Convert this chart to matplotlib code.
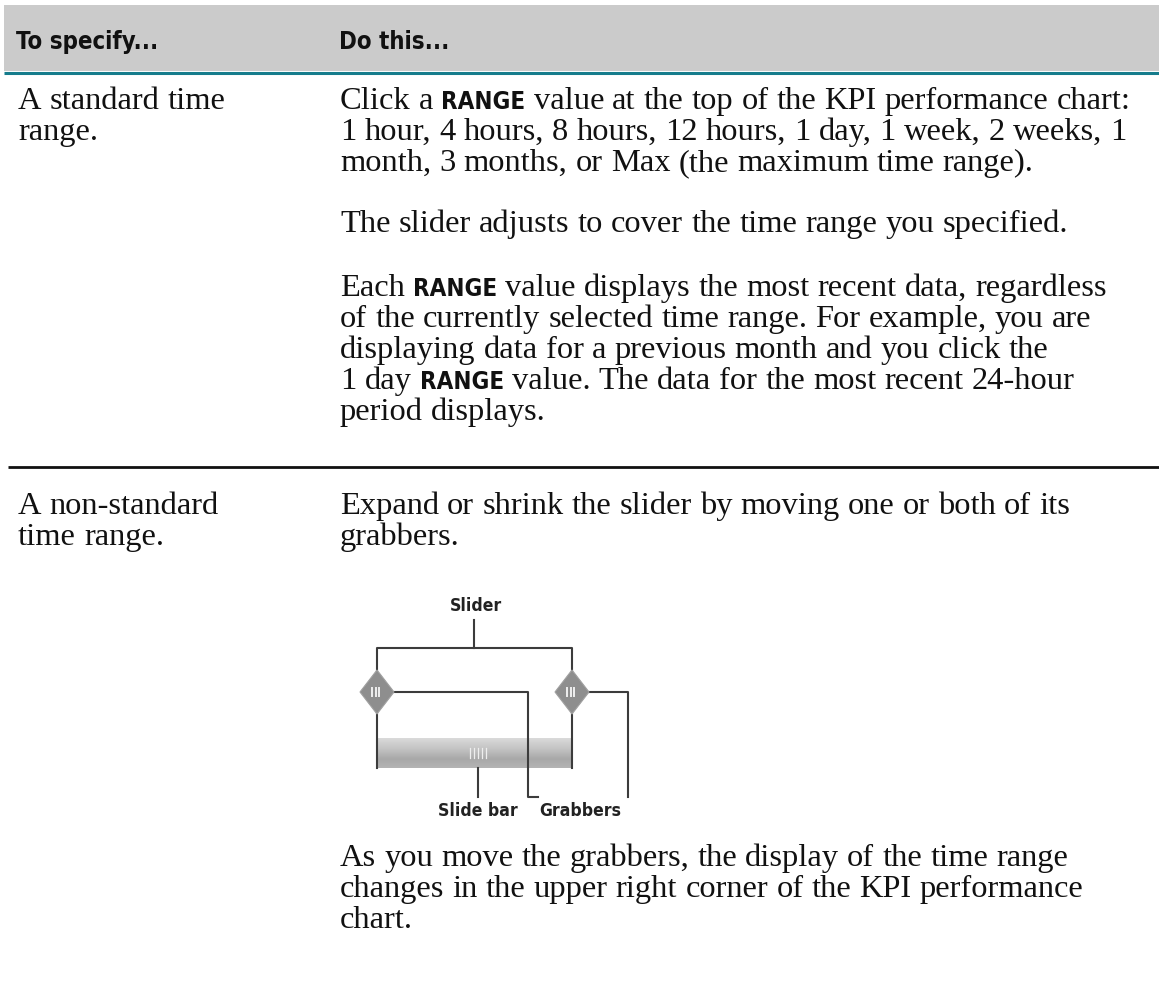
import numpy as np
import matplotlib
matplotlib.use("Agg")
from matplotlib import pyplot as plt
from matplotlib import font_manager
from matplotlib.colors import LinearSegmentedColormap
from matplotlib.patches import Polygon, Rectangle

# table content ("**" marks bold sans words)
header_labels = ["To specify...", "Do this..."]
row1_left = ["A standard time", "range."]
row1_para1 = ["Click a **RANGE** value at the top of the KPI performance chart:",
              "1 hour, 4 hours, 8 hours, 12 hours, 1 day, 1 week, 2 weeks, 1",
              "month, 3 months, or Max (the maximum time range)."]
row1_para2 = ["The slider adjusts to cover the time range you specified."]
row1_para3 = ["Each **RANGE** value displays the most recent data, regardless",
              "of the currently selected time range. For example, you are",
              "displaying data for a previous month and you click the",
              "1 day **RANGE** value. The data for the most recent 24-hour",
              "period displays."]
row2_left = ["A non-standard", "time range."]
row2_para1 = ["Expand or shrink the slider by moving one or both of its",
              "grabbers."]
row2_para2 = ["As you move the grabbers, the display of the time range",
              "changes in the upper right corner of the KPI performance",
              "chart."]
diagram_labels = ["Slider", "Slide bar", "Grabbers"]

W, H = 1159, 985
SERIF = ["Liberation Serif", "DejaVu Serif"]


def narrow_bold():
    # look for any installed condensed / narrow bold sans face
    for f in font_manager.fontManager.ttflist:
        is_bold = f.weight in ("bold", 700, "700")
        narrow = ("Narrow" in f.name or "Condensed" in f.name
                  or f.stretch in ("condensed", "semi-condensed", 87.5, 75))
        if is_bold and narrow and "Mono" not in f.name and "Serif" not in f.name:
            return font_manager.FontProperties(fname=f.fname)
    return font_manager.FontProperties(family=["Liberation Sans", "DejaVu Sans"], weight="bold")


NARROW = narrow_bold()

fig = plt.figure(figsize=(W / 100, H / 100), dpi=100)
ax = fig.add_axes([0, 0, 1, 1])
ax.set_xlim(0, W)
ax.set_ylim(H, 0)
ax.axis("off")
renderer = fig.canvas.get_renderer()


def style(kind, size):
    if kind == "bold":
        fp = NARROW.copy()
        fp.set_size(size)
        return dict(fontproperties=fp)
    return dict(family=SERIF, fontsize=size)


def text_width(s, kind, size):
    t = ax.text(0, 0, s, **style(kind, size))
    w = t.get_window_extent(renderer).width
    t.remove()
    return w


def fit_size(s, target, kind):
    return 20 * target / text_width(s, kind, 20)


body_size = fit_size("The slider adjusts to cover the", 390, "serif")
bold_size = fit_size("RANGE", 84, "bold")
space = text_width("a a", "serif", body_size) - text_width("aa", "serif", body_size)


def draw_line(x, y, line):
    parts = line.split("**")
    for i, part in enumerate(parts):
        kw = style("bold", bold_size) if i % 2 else style("serif", body_size)
        for word in part.split(" "):
            if word == "":
                continue
            t = ax.text(x, y, word, va="baseline", ha="left", color="#111111", **kw)
            x += t.get_window_extent(renderer).width + space


def draw_para(x, y0, lines, step=31):
    for i, line in enumerate(lines):
        draw_line(x, y0 + i * step, line)


# header band
ax.add_patch(Rectangle((4, 5), W - 4, 66, facecolor="#cbcbcb", edgecolor="none"))
ax.plot([4, W], [72.5, 72.5], color="#157c8c", lw=2.2, solid_capstyle="butt")
head_size = fit_size("To specify...", 142, "bold")
ax.text(16, 49, header_labels[0], va="baseline", color="#111111", **style("bold", head_size))
ax.text(339, 49, header_labels[1], va="baseline", color="#111111", **style("bold", head_size))

# row 1
draw_para(18, 109, row1_left)
draw_para(340, 109, row1_para1)
draw_para(340, 232, row1_para2)
draw_para(340, 296, row1_para3)

ax.plot([8, W], [467, 467], color="#111111", lw=2.0, solid_capstyle="butt")

# row 2
draw_para(18, 514, row2_left)
draw_para(340, 514, row2_para1)
draw_para(340, 866, row2_para2)

# slider diagram
lc = "#3c3c3c"
lw = 1.5
xl, xr = 377, 572
yd = 692
ax.plot([474, 474], [620, 648], color=lc, lw=lw)
ax.plot([xl, xl, xr, xr], [670, 648, 648, 670], color=lc, lw=lw)

# slide bar with vertical gradient
bar_cmap = LinearSegmentedColormap.from_list(
    "bar", [(0, "#dadada"), (0.35, "#c4c4c4"), (0.7, "#a8a8a8"), (1, "#b4b4b4")])
grad = np.linspace(0, 1, 64).reshape(-1, 1)
ax.imshow(grad, extent=[xl, xr, 768, 738], cmap=bar_cmap, aspect="auto",
          interpolation="bilinear", zorder=1)
ax.plot([xl, xl], [714, 768], color=lc, lw=lw, zorder=3)
ax.plot([xr, xr], [714, 768], color=lc, lw=lw, zorder=3)
for dx in np.arange(-8, 9, 4):
    ax.plot([478 + dx, 478 + dx], [748, 758], color="#eeeeee", lw=0.9, zorder=3)

# leaders
ax.plot([478, 478], [768, 797], color=lc, lw=lw)
ax.plot([394, 528, 528, 538], [yd, yd, 797, 797], color=lc, lw=lw, zorder=2)
ax.plot([589, 628, 628], [yd, yd, 797], color=lc, lw=lw, zorder=2)

# grabbers
for cx in (xl, xr):
    ax.add_patch(Polygon([[cx - 17, yd], [cx, yd - 22], [cx + 17, yd], [cx, yd + 22]],
                         closed=True, facecolor="#8e8e8e", edgecolor="#a0a0a0", lw=0.8, zorder=4))
    for dx in (-5, -1.5, 2):
        ax.plot([cx + dx, cx + dx], [yd - 4, yd + 4], color="#efefef", lw=1.4, zorder=5)

lab_size = fit_size("Slider", 52, "bold")
ax.text(476, 606, diagram_labels[0], ha="center", va="center", color="#222222", **style("bold", lab_size))
ax.text(478, 811, diagram_labels[1], ha="center", va="center", color="#222222", **style("bold", lab_size))
ax.text(580, 811, diagram_labels[2], ha="center", va="center", color="#222222", **style("bold", lab_size))

fig.savefig("out.png", dpi=100)
